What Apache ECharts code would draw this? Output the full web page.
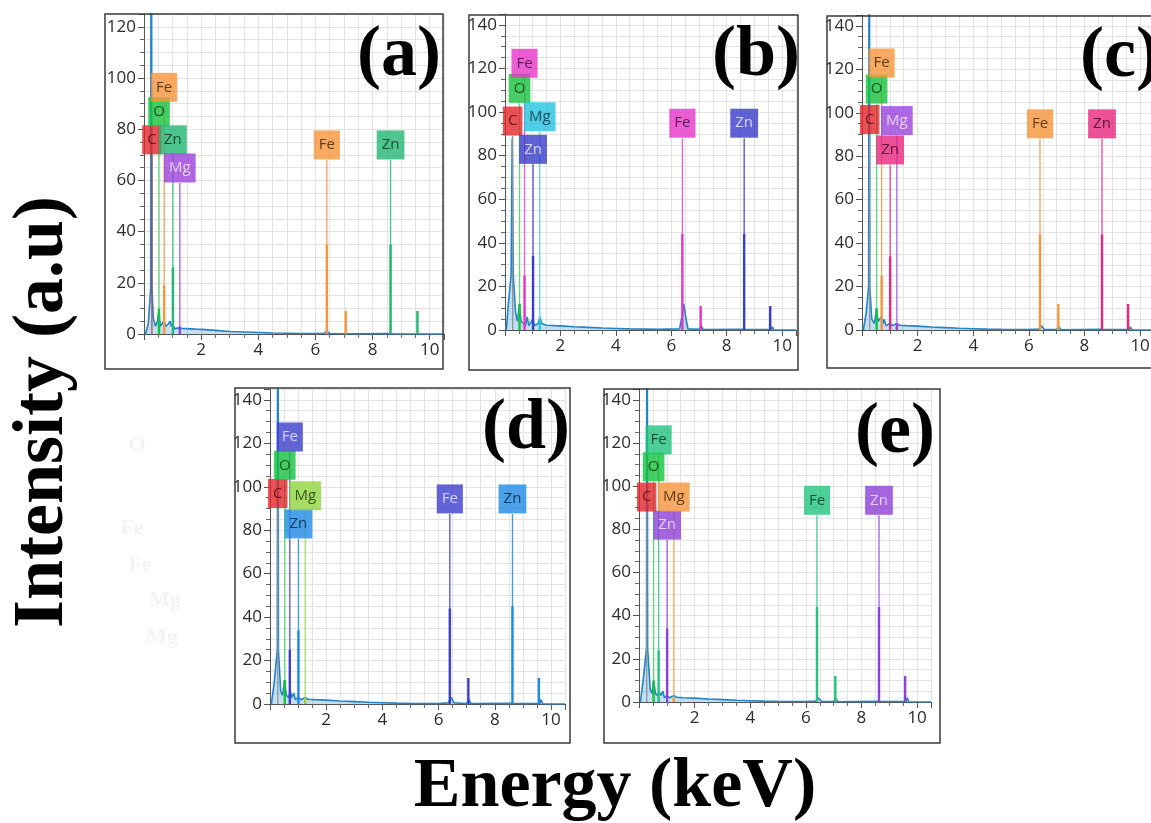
<!DOCTYPE html>
<html><head><meta charset="utf-8">
<script src="https://cdn.jsdelivr.net/npm/echarts@6/dist/echarts.min.js"></script>
<style>html,body{margin:0;padding:0;background:#fff}#c{width:1151px;height:823px}</style>
</head><body><div id="c"></div>
<script>
// ================= DATA =================
const panelNames = ['(a)', '(b)', '(c)', '(d)', '(e)'];
const xAxisMax = 10.5;
const yAxisMaxes = [125, 145, 145, 145, 145];

// labelled element marker lines (energy in keV, top of marker in a.u.)
const markerElements = ['C', 'O', 'Fe', 'Zn', 'Mg', 'Fe', 'Zn'];
const markerEnergies = [0.277, 0.525, 0.705, 1.012, 1.254, 6.40, 8.63];
const markerTopsA = [70, 81, 90.5, 70, 59, 68, 68];
const markerTopsB = [89, 104, 115.5, 76, 91, 88, 88];
const markerTopsC = [90, 104, 116, 76, 89.5, 88, 88];
const markerTopsD = [90, 103, 116, 76, 89, 87.5, 87.5];
const markerTopsE = [88, 102, 114.5, 75, 88, 86.5, 86.5];

// relative line intensities (short bars)
const peakElements = ['O', 'Fe', 'Zn', 'Mg', 'Fe', 'Fe', 'Zn', 'Zn'];
const peakEnergies = [0.525, 0.705, 1.012, 1.254, 6.40, 7.06, 8.63, 9.57];
const peakHeightsA = [10, 19, 26, 3, 35, 9, 35, 9];
const peakHeightsB = [12, 25, 34, 5, 44, 11, 44, 11];
const peakHeightsC = [10, 25, 34, 3, 44, 12, 44, 12];
const peakHeightsD = [11, 25, 34, 3, 44, 12, 45, 12];
const peakHeightsE = [10, 24, 34, 2, 44, 12, 44, 12];

// measured spectra [keV, counts]
const spectrumA = [[0.05,0],[0.15,4],[0.235,18],[0.255,300],[0.275,18],[0.33,6],[0.40,3],[0.47,5],[0.52,9],[0.57,3],[0.63,4],[0.70,5],[0.76,3],[0.86,4],[0.91,5],[0.96,3],[1.01,4],[1.07,2],[1.2,2.4],[1.26,3],[1.33,2.2],[1.5,2.1],[1.8,1.9],[2.0,1.8],[2.5,1.4],[3.0,1.0],[3.5,0.8],[4.0,0.6],[4.5,0.4],[5.0,0.3],[5.5,0.2],[6.3,0.2],[6.4,1.0],[6.5,0.2],[7.5,0.1],[8.6,0.2],[8.65,0.8],[8.7,0.1],[10.5,0]];
const spectrumB = [[0.05,0],[0.12,12],[0.22,25],[0.26,88],[0.30,25],[0.38,8],[0.45,4],[0.52,12],[0.58,4],[0.66,3],[0.74,2],[0.8,6],[0.86,2],[0.95,4],[1.01,5],[1.06,2],[1.2,3],[1.26,6],[1.32,3],[1.5,2.2],[1.8,2],[2.0,1.9],[2.5,1.5],[3.0,1.2],[3.5,0.9],[4.0,0.7],[4.5,0.5],[5.0,0.4],[5.5,0.3],[6.3,0.5],[6.38,6],[6.45,12],[6.52,6],[6.6,0.5],[7.0,0.3],[7.08,2],[7.15,0.2],[8.6,0.3],[8.65,1.2],[8.7,0.2],[9.6,0.2],[9.65,1.5],[9.7,0.1],[10.5,0]];
const spectrumC = [[0.05,0],[0.15,8],[0.24,20],[0.26,300],[0.28,20],[0.35,5],[0.45,3],[0.52,10],[0.58,4],[0.70,6],[0.76,3],[0.80,5],[0.86,2],[1.0,3],[1.1,2],[1.25,3],[1.35,2.2],[1.6,2],[2.0,1.8],[2.5,1.4],[3.0,1.1],[3.5,0.8],[4.0,0.6],[4.5,0.4],[5.0,0.3],[6.0,0.2],[6.35,0.4],[6.45,2],[6.55,0.3],[7.0,0.2],[7.08,1.5],[7.15,0.1],[8.6,0.3],[8.65,1],[8.7,0.2],[9.6,0.2],[9.65,1.5],[9.7,0.1],[10.5,0]];
const spectrumD = [[0.05,0],[0.15,10],[0.26,25],[0.28,300],[0.30,25],[0.38,6],[0.45,4],[0.52,11],[0.58,4],[0.66,3],[0.72,6],[0.78,3],[0.85,5],[0.90,2],[1.0,3],[1.1,2],[1.26,3],[1.35,2.2],[1.6,2],[2.0,1.8],[2.5,1.4],[3.0,1.1],[3.5,0.8],[4.0,0.6],[4.5,0.4],[5.0,0.3],[6.0,0.2],[6.35,0.5],[6.45,3],[6.55,0.5],[7.0,0.2],[7.08,2],[7.15,0.2],[8.6,0.3],[8.65,1],[8.7,0.2],[9.6,0.3],[9.65,2],[9.7,0.1],[10.5,0]];
const spectrumE = [[0.05,0],[0.15,10],[0.27,25],[0.29,300],[0.31,25],[0.40,6],[0.47,4],[0.53,10],[0.59,4],[0.66,3],[0.72,5],[0.78,3],[0.86,5],[0.91,2],[1.0,3],[1.1,2],[1.26,3],[1.35,2.2],[1.6,2],[2.0,1.8],[2.5,1.4],[3.0,1.1],[3.5,0.8],[4.0,0.6],[4.5,0.4],[5.0,0.3],[6.0,0.2],[6.35,0.4],[6.45,2],[6.55,0.3],[7.0,0.2],[7.08,1.5],[7.15,0.1],[8.6,0.3],[8.65,1],[8.7,0.2],[9.6,0.3],[9.65,2],[9.7,0.1],[10.5,0]];

const ghostLabels = ['O', 'Fe', 'Fe', 'Mg', 'Mg'];

// ================= STYLE / LAYOUT =================
const RED = {box:'#e3262b', text:'#4d0a0a'};
const GREEN_O = {box:'#17c23d', text:'#0a3311', line:'#5fd57b'};
const panelColors = [
  { C:{...RED, line:'#a9514f'}, O:GREEN_O,
    Fe:{box:'#f7953b', text:'#3a2208', line:'#f5a25c'},
    Zn:{box:'#22b573', text:'#0b2e1c', line:'#3ec28a'},
    Mg:{box:'#9b40d8', text:'#f3ebff', line:'#a861de'} },
  { C:{...RED, line:'#8f949c'}, O:GREEN_O,
    Fe:{box:'#e635c8', text:'#3b0a32', line:'#ea5fd2'},
    Zn:{box:'#3a3ccb', text:'#f0f0ff', line:'#4d4fd2'},
    Mg:{box:'#22c3df', text:'#06303a', line:'#5cd1e6'} },
  { C:{...RED, line:'#8f949c'}, O:GREEN_O,
    Fe:{box:'#f7953b', text:'#3a2208', line:'#f5a25c'},
    Zn:{box:'#e8267d', text:'#3c0a1f', line:'#ea4a8e'},
    Mg:{box:'#9b42dc', text:'#f3ebff', line:'#ad66e2'} },
  { C:{...RED, line:'#8f949c'}, O:GREEN_O,
    Fe:{box:'#3c3ecd', text:'#f0f0ff', line:'#5254d4'},
    Zn:{box:'#1f8be5', text:'#081f35', line:'#3b99e8'},
    Mg:{box:'#8fd43e', text:'#1d3308', line:'#a3dc62'} },
  { C:{...RED, line:'#8f949c'}, O:GREEN_O,
    Fe:{box:'#21c47d', text:'#08301e', line:'#45cd91'},
    Zn:{box:'#8d40d7', text:'#f3ebff', line:'#9f5ede'},
    Mg:{box:'#f7953b', text:'#3a2208', line:'#f5a25c'} }
];
const grids = [
  {left:144, top:14, width:300, height:320},
  {left:505, top:14, width:291, height:316},
  {left:862, top:15, width:292, height:315},
  {left:270, top:389, width:295, height:315},
  {left:639, top:389, width:292, height:313}
];
const frames = [
  {x:105, y:14, width:338, height:355},
  {x:469, y:15, width:329, height:355},
  {x:827, y:16, width:340, height:352},
  {x:235, y:388, width:335, height:355},
  {x:604, y:389, width:336, height:354}
];
const panelLabelPos = [[399,56],[756,56],[1120,57],[526,429],[895,433]];
const ghostPos = [[137,445],[132,528],[140,565],[165,600],[162,637]];

const markerTops = [markerTopsA, markerTopsB, markerTopsC, markerTopsD, markerTopsE];
const peakHeights = [peakHeightsA, peakHeightsB, peakHeightsC, peakHeightsD, peakHeightsE];
const spectra = [spectrumA, spectrumB, spectrumC, spectrumD, spectrumE];

const TICK_FONT = {fontSize:17, color:'#2b2b2b', fontFamily:'Open Sans'};
const GRIDCOL = '#e3e3e3';

const xAxes = [], yAxes = [], series = [];
for (let i = 0; i < 5; i++) {
  xAxes.push({
    type:'value', gridIndex:i, min:0, max:xAxisMax, interval:2,
    axisLine:{show:true, onZero:true, lineStyle:{color:'#555', width:1}},
    axisTick:{show:true, length:6, lineStyle:{color:'#555'}},
    minorTick:{show:true, splitNumber:4, length:4, lineStyle:{color:'#666'}},
    axisLabel:{...TICK_FONT, margin:8, showMinLabel:false, showMaxLabel:false},
    splitLine:{show:true, lineStyle:{color:GRIDCOL, width:1}},
    minorSplitLine:{show:true, lineStyle:{color:GRIDCOL, width:1}}
  });
  yAxes.push({
    type:'value', gridIndex:i, min:0, max:yAxisMaxes[i], interval:20,
    axisLine:{show:true, lineStyle:{color:'#555', width:1}},
    axisTick:{show:true, length:6, lineStyle:{color:'#555'}},
    minorTick:{show:true, splitNumber:4, length:4, lineStyle:{color:'#666'}},
    axisLabel:{...TICK_FONT, margin:8, showMaxLabel:false},
    splitLine:{show:true, lineStyle:{color:GRIDCOL, width:1}},
    minorSplitLine:{show:true, lineStyle:{color:GRIDCOL, width:1}}
  });
  const cols = panelColors[i];
  // measured spectrum
  series.push({
    type:'line', xAxisIndex:i, yAxisIndex:i, data:spectra[i], symbol:'none', silent:true, z:2,
    lineStyle:{color:'#2383c8', width:1.6},
    areaStyle:{color:'#3d95d4', opacity:0.3}
  });
  // tall marker lines
  markerEnergies.forEach((e, j) => {
    const c = cols[markerElements[j]];
    series.push({
      type:'line', xAxisIndex:i, yAxisIndex:i, data:[[e,0],[e,markerTops[i][j]]], symbol:'none', silent:true, z:3,
      lineStyle:{color:c.line, width:1.3}
    });
  });
  // relative intensity bars
  peakEnergies.forEach((e, k) => {
    const c = cols[peakElements[k]];
    series.push({
      type:'line', xAxisIndex:i, yAxisIndex:i, data:[[e,0],[e,peakHeights[i][k]]], symbol:'none', silent:true, z:4,
      lineStyle:{color:c.box, width:2.4}
    });
  });
  // element label boxes
  series.push({
    type:'scatter', xAxisIndex:i, yAxisIndex:i, symbolSize:1, silent:true, z:10, clip:false,
    itemStyle:{color:'rgba(0,0,0,0)'},
    data: markerEnergies.map((e, j) => {
      const el = markerElements[j], c = cols[el];
      return {value:[e, markerTops[i][j]], label:{
        show:true, position:'top', distance:0, formatter:el,
        backgroundColor:c.box, color:c.text, padding:[6,5,6,5],
        fontSize:15, lineHeight:17, fontFamily:'Open Sans'
      }};
    })
  });
}

const graphics = [];
frames.forEach(f => graphics.push({type:'rect', shape:f, z:100, silent:true,
  style:{fill:null, stroke:'#3a3a3a', lineWidth:1.5}}));
panelNames.forEach((t, i) => graphics.push({type:'text', x:panelLabelPos[i][0], y:panelLabelPos[i][1], z:101, silent:true,
  style:{text:t, font:'bold 72px "Liberation Serif"', fill:'#000', align:'center', verticalAlign:'middle'}}));
ghostLabels.forEach((t, i) => graphics.push({type:'text', x:ghostPos[i][0], y:ghostPos[i][1], z:1, silent:true,
  style:{text:t, font:'bold 22px "Liberation Serif"', fill:'#f3f3f3', align:'center', verticalAlign:'middle'}}));
graphics.push({type:'text', x:43, y:412, rotation:Math.PI/2, z:101, silent:true,
  style:{text:'Intensity (a.u)', font:'bold 72px "Liberation Serif"', fill:'#000', align:'center', verticalAlign:'middle'}});
graphics.push({type:'text', x:615, y:788, z:101, silent:true,
  style:{text:'Energy (keV)', font:'bold 70px "Liberation Serif"', fill:'#000', align:'center', verticalAlign:'middle'}});

const chart = echarts.init(document.getElementById('c'), null, {renderer:'canvas'});
chart.setOption({
  animation:false,
  backgroundColor:'#fff',
  grid: grids.map(g => ({...g, containLabel:false, outerBoundsMode:'none'})),
  xAxis: xAxes, yAxis: yAxes, series: series, graphic: graphics
});
</script></body></html>
